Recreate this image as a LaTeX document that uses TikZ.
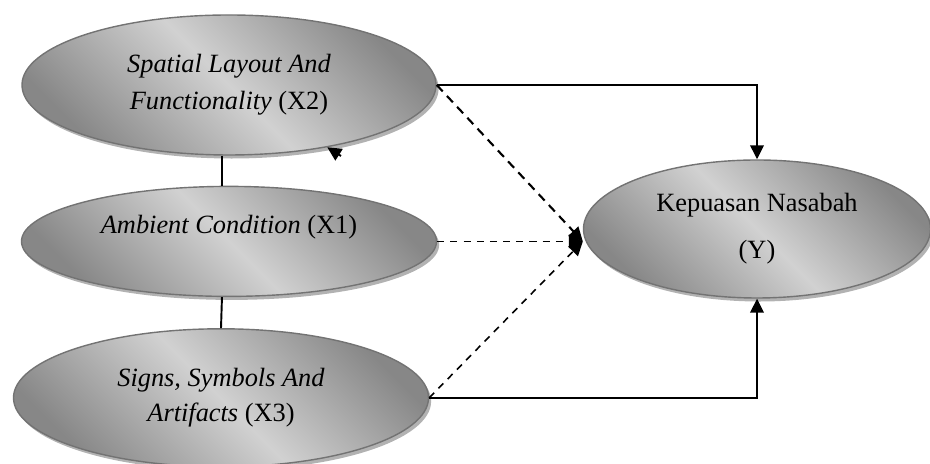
\documentclass[tikz,border=0pt]{standalone}
\usepackage{fontspec}
\setmainfont{Liberation Serif}
\usetikzlibrary{shapes.geometric, arrows.meta, positioning, shadows, calc}

\begin{document}
\begin{tikzpicture}[
    var/.style={ellipse, draw=black!55, line width=0.8pt, top color=black!47, bottom color=black!47, middle color=black!18, shading angle=-45, align=center, inner sep=0pt, font=\fontsize{15}{21}\selectfont, drop shadow={shadow xshift=1.5pt, shadow yshift=-2pt, fill=black!30, opacity=1}},
    arrow/.style={-{Triangle[length=2.8mm, width=2.7mm]}, line width=1.1pt},
    link/.style={line width=1.1pt},
    thickdash/.style={-{Triangle[length=2.8mm, width=2.7mm]}, dash pattern=on 5pt off 3.5pt, line width=1.2pt},
    thindash/.style={-{Triangle[length=2.8mm, width=2.7mm]}, dash pattern=on 4pt off 3.5pt, line width=0.9pt},
]

\useasboundingbox (0,0) rectangle (18.6,9.28);

\node[var, minimum width=8.28cm, minimum height=2.8cm] (x2) at (4.58,7.58) {\textit{Spatial Layout And}\\\textit{Functionality} (X2)};
\node[var, minimum width=8.3cm, minimum height=2.2cm, text height=10pt, text depth=19pt, below=0.6cm of x2] (x1) {\textit{Ambient Condition} (X1)};
\node[var, minimum width=8.3cm, minimum height=2.76cm, below=0.62cm of x1, xshift=-0.16cm] (x3) {\textit{Signs, Symbols And}\\[-1pt]\textit{Artifacts} (X3)};
\node[var, minimum width=6.94cm, minimum height=2.76cm] (y) at (15.14,4.70) {Kepuasan Nasabah\\[5.7pt](Y)};

% Direct paths
\draw[arrow] (x2.east) -| (y.north);
\draw[arrow] (x3.east) -| (y.south);

% Dashed paths
\coordinate (meet) at (x1.east -| y.west);
\draw[thindash] (x1.east) -- (meet);
\draw[thickdash] (x2.east) -- (meet);
\draw[thindash] (x3.east) -- (meet);

% Links between the X variables
\draw[link] ([xshift=-4pt]x2.south) -- ([xshift=-4pt]x1.north);
\draw[link] ([xshift=-4pt]x1.south) -- (x3.north);
\coordinate (stub) at (6.82,6.16);
\draw[arrow] (stub) -- (x2);

\end{tikzpicture}
\end{document}
